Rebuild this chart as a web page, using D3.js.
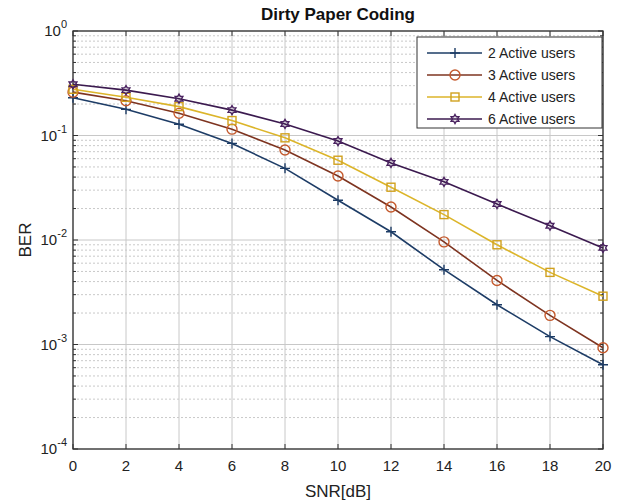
<!DOCTYPE html>
<html>
<head>
<meta charset="utf-8">
<script src="https://cdn.jsdelivr.net/npm/d3@7"></script>
<style>
  body { margin: 0; background: #fff; }
  text { font-family: "Liberation Sans", Arial, sans-serif; fill: #222; }
</style>
</head>
<body>
<div id="chart"></div>
<script>
(function(){

    var width = 617;
    var height = 501;

    var margin = {top: 31, right: 14, bottom: 52, left: 73};

    // data
    var snr = [0, 2, 4, 6, 8, 10, 12, 14, 16, 18, 20];
    var ber2 = [0.23, 0.178, 0.128, 0.084, 0.0485, 0.024, 0.012, 0.0052, 0.0024, 0.00119, 0.00064];
    var ber3 = [0.26, 0.215, 0.163, 0.115, 0.0727, 0.041, 0.0207, 0.0096, 0.0041, 0.0019, 0.00093];
    var ber4 = [0.277, 0.232, 0.189, 0.139, 0.095, 0.058, 0.032, 0.0175, 0.009, 0.0049, 0.0029];
    var ber6 = [0.309, 0.272, 0.225, 0.175, 0.129, 0.0885, 0.0546, 0.036, 0.0221, 0.0137, 0.0084];
    var seriesNames = ["2 Active users", "3 Active users", "4 Active users", "6 Active users"];
    var xTicks = [0, 2, 4, 6, 8, 10, 12, 14, 16, 18, 20];
    var yExponents = [0, -1, -2, -3, -4];

    var series = [
        {name: seriesNames[0], values: ber2, line: "#1d3c66", mark: "#1d3c66", shape: "plus"},
        {name: seriesNames[1], values: ber3, line: "#7e3420", mark: "#c4592c", shape: "circle"},
        {name: seriesNames[2], values: ber4, line: "#dcb52a", mark: "#d1a11e", shape: "square"},
        {name: seriesNames[3], values: ber6, line: "#3b1a4f", mark: "#4a2260", shape: "hex"}
    ];

    var svg = d3.select("#chart")
        .append("svg")
            .attr("width", width)
            .attr("height", height);

    var w = width - margin.left - margin.right;
    var h = height - margin.top - margin.bottom;

    var g = svg.append("g")
        .attr("transform", "translate(" + margin.left + "," + margin.top + ")");

    var x = d3.scaleLinear().domain([0, 20]).range([0, w]);
    var y = d3.scaleLog().domain([1e-4, 1]).range([h, 0]);

    // minor grid
    var minor = [];
    for (var e = -4; e < 0; e++) {
        for (var k = 2; k <= 9; k++) minor.push(k * Math.pow(10, e));
    }
    g.append("g").selectAll("line.minor")
        .data(minor).enter().append("line")
        .attr("x1", 0).attr("x2", w)
        .attr("y1", function(d){ return y(d); })
        .attr("y2", function(d){ return y(d); })
        .style("stroke", "#bbb")
        .style("stroke-width", 0.8)
        .style("stroke-dasharray", "2,2");

    // major grid
    g.append("g").selectAll("line.gy")
        .data(yExponents).enter().append("line")
        .attr("x1", 0).attr("x2", w)
        .attr("y1", function(d){ return y(Math.pow(10, d)); })
        .attr("y2", function(d){ return y(Math.pow(10, d)); })
        .style("stroke", "#c8c8c8");
    g.append("g").selectAll("line.gx")
        .data(xTicks).enter().append("line")
        .attr("y1", 0).attr("y2", h)
        .attr("x1", function(d){ return x(d); })
        .attr("x2", function(d){ return x(d); })
        .style("stroke", "#c8c8c8");

    // ticks (inside) on all sides
    var ticks = g.append("g").style("stroke", "#333").style("stroke-width", 1);
    xTicks.forEach(function(t){
        ticks.append("line").attr("x1", x(t)).attr("x2", x(t)).attr("y1", h).attr("y2", h - 5);
        ticks.append("line").attr("x1", x(t)).attr("x2", x(t)).attr("y1", 0).attr("y2", 5);
    });
    yExponents.forEach(function(t){
        var yy = y(Math.pow(10, t));
        ticks.append("line").attr("x1", 0).attr("x2", 5).attr("y1", yy).attr("y2", yy);
        ticks.append("line").attr("x1", w).attr("x2", w - 5).attr("y1", yy).attr("y2", yy);
    });
    minor.forEach(function(t){
        var yy = y(t);
        ticks.append("line").attr("x1", 0).attr("x2", 3).attr("y1", yy).attr("y2", yy);
        ticks.append("line").attr("x1", w).attr("x2", w - 3).attr("y1", yy).attr("y2", yy);
    });

    // box
    g.append("rect")
        .attr("width", w).attr("height", h)
        .style("fill", "none")
        .style("stroke", "#333")
        .style("stroke-width", 1.3);

    // tick labels
    g.append("g").selectAll("text")
        .data(xTicks).enter().append("text")
        .attr("x", function(d){ return x(d); })
        .attr("y", h + 22)
        .attr("text-anchor", "middle")
        .style("font-size", "15px")
        .text(function(d){ return d; });

    var yl = g.append("g").selectAll("text")
        .data(yExponents).enter().append("text")
        .attr("x", -6)
        .attr("y", function(d){ return y(Math.pow(10, d)) + 5; })
        .attr("text-anchor", "end")
        .style("font-size", "15px");
    yl.append("tspan").text("10");
    yl.append("tspan")
        .attr("dy", -8)
        .style("font-size", "11px")
        .text(function(d){ return d; });

    // lines
    var line = d3.line()
        .x(function(d, i){ return x(snr[i]); })
        .y(function(d){ return y(d); });

    function hexagram(r) {
        var pts = [];
        for (var i = 0; i < 12; i++) {
            var a = Math.PI / 6 * i - Math.PI / 2;
            var rr = i % 2 === 0 ? r : r * 0.58;
            pts.push([rr * Math.cos(a), rr * Math.sin(a)]);
        }
        return "M" + pts.join("L") + "Z";
    }

    function drawMarker(sel, s) {
        if (s.shape === "plus") {
            sel.append("path").attr("d", "M-5,0H5M0,-5V5")
                .style("stroke", s.mark).style("stroke-width", 1.4).style("fill", "none");
        } else if (s.shape === "circle") {
            sel.append("circle").attr("r", 5)
                .style("stroke", s.mark).style("stroke-width", 1.4).style("fill", "none");
        } else if (s.shape === "square") {
            sel.append("rect").attr("x", -4).attr("y", -4).attr("width", 8).attr("height", 8)
                .style("stroke", s.mark).style("stroke-width", 1.4).style("fill", "none");
        } else {
            sel.append("path").attr("d", hexagram(4.5))
                .style("stroke", s.mark).style("stroke-width", 1.4).style("fill", "none");
        }
    }

    series.forEach(function(s){
        g.append("path")
            .datum(s.values)
            .attr("d", line)
            .style("fill", "none")
            .style("stroke", s.line)
            .style("stroke-width", 1.6);
        g.append("g").selectAll("g")
            .data(s.values).enter().append("g")
            .attr("transform", function(d, i){ return "translate(" + x(snr[i]) + "," + y(d) + ")"; })
            .each(function(){ drawMarker(d3.select(this), s); });
    });

    // legend
    var lg = g.append("g").attr("transform", "translate(" + (417 - margin.left) + "," + (37 - margin.top) + ")");
    lg.append("rect")
        .attr("width", 185).attr("height", 91)
        .style("fill", "#fff")
        .style("stroke", "#333");
    series.forEach(function(s, i){
        var ly = 16 + i * 22;
        var row = lg.append("g").attr("transform", "translate(0," + ly + ")");
        row.append("line").attr("x1", 10).attr("x2", 65).attr("y1", 0).attr("y2", 0)
            .style("stroke", s.line).style("stroke-width", 1.6);
        var m = row.append("g").attr("transform", "translate(38,0)");
        drawMarker(m, s);
        row.append("text").attr("x", 71).attr("y", 5)
            .style("font-size", "14px")
            .text(s.name);
    });

    // titles
    svg.append("text")
        .attr("x", margin.left + w / 2)
        .attr("y", 20)
        .attr("text-anchor", "middle")
        .style("font-size", "17px")
        .style("font-weight", "bold")
        .style("fill", "#111")
        .text("Dirty Paper Coding");

    svg.append("text")
        .attr("x", margin.left + w / 2)
        .attr("y", 497)
        .attr("text-anchor", "middle")
        .style("font-size", "17px")
        .text("SNR[dB]");

    svg.append("text")
        .attr("transform", "translate(31," + (margin.top + h / 2) + ") rotate(-90)")
        .attr("text-anchor", "middle")
        .style("font-size", "17px")
        .text("BER");
})();
</script>
</body>
</html>
